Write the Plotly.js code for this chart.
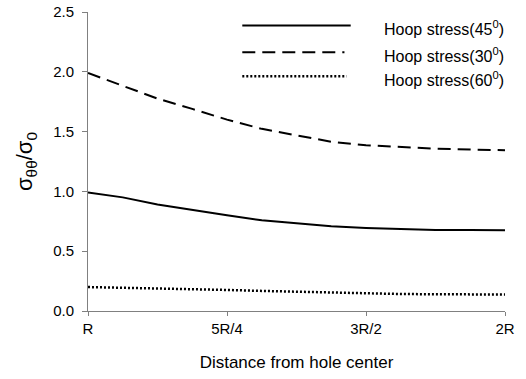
<!DOCTYPE html>
<html>
<head>
<meta charset="utf-8">
<script src="https://cdn.plot.ly/plotly-3.0.1.min.js"></script>
<style>
  html, body { margin: 0; padding: 0; background: #ffffff; }
  #chart { width: 526px; height: 379px; }
</style>
</head>
<body>
<div id="chart"></div>
<script>
// Radial positions (equally spaced steps between the labelled stations)
const positions = [0, 0.25, 0.5, 0.75, 1, 1.25, 1.5, 1.75, 2, 2.25, 2.5, 2.75, 3];
const tickPositions = [0, 1, 2, 3];
const tickLabels = ['R', '5R/4', '3R/2', '2R'];

// Normalised hoop stress along the line from the hole edge
const hoop45 = [0.99, 0.95, 0.89, 0.843, 0.80, 0.758, 0.73, 0.708, 0.694, 0.683, 0.678, 0.677, 0.675];
const hoop30 = [1.99, 1.883, 1.776, 1.69, 1.60, 1.523, 1.47, 1.415, 1.386, 1.372, 1.357, 1.350, 1.345];
const hoop60 = [0.20, 0.195, 0.19, 0.183, 0.176, 0.168, 0.160, 0.153, 0.147, 0.142, 0.140, 0.139, 0.138];

const seriesNames = ['Hoop stress(45<sup>0</sup>)', 'Hoop stress(30<sup>0</sup>)', 'Hoop stress(60<sup>0</sup>)'];
const seriesValues = [hoop45, hoop30, hoop60];
const seriesDash = ['solid', '13px,7px', '2px,2px'];

const FONT = 'Liberation Sans, Arial, sans-serif';

const traces = seriesValues.map((vals, i) => ({
  x: positions,
  y: vals,
  type: 'scatter',
  mode: 'lines',
  name: seriesNames[i],
  line: { color: '#000000', width: i === 2 ? 2.5 : 2, dash: seriesDash[i] },
  showlegend: false,
  hoverinfo: 'skip'
}));

// Hand-drawn key in the upper right: long line samples with labels beside them
const keyShapes = [];
const keyNotes = [];
const keyRows = [0.955, 0.865, 0.785];
const keyEnds = [0.63, 0.615, 0.62];
seriesNames.forEach((name, i) => {
  keyShapes.push({
    type: 'line', xref: 'paper', yref: 'paper',
    x0: 0.37, x1: keyEnds[i], y0: keyRows[i], y1: keyRows[i],
    line: { color: '#000000', width: i === 2 ? 2.5 : 2, dash: seriesDash[i] }
  });
  keyNotes.push({
    xref: 'paper', yref: 'paper', x: 0.705, y: keyRows[i] - 0.008,
    xanchor: 'left', yanchor: 'middle', showarrow: false,
    text: name, font: { family: FONT, size: 16, color: '#000000' }
  });
});

const layout = {
  width: 526,
  height: 379,
  margin: { l: 88, r: 21, t: 12, b: 68 },
  paper_bgcolor: '#ffffff',
  plot_bgcolor: '#ffffff',
  font: { family: FONT, color: '#000000' },
  showlegend: false,
  xaxis: {
    range: [0, 3],
    tickvals: tickPositions,
    ticktext: tickLabels,
    showgrid: false,
    zeroline: false,
    showline: true,
    linecolor: '#808080',
    linewidth: 1,
    ticks: 'outside',
    ticklen: 4,
    tickcolor: '#808080',
    tickfont: { family: FONT, size: 15, color: '#000000' },
    title: { text: 'Distance from hole center', font: { family: FONT, size: 17, color: '#000000' }, standoff: 20 }
  },
  yaxis: {
    range: [0, 2.5],
    tickvals: [0, 0.5, 1, 1.5, 2, 2.5],
    tickformat: '.1f',
    showgrid: false,
    zeroline: false,
    showline: true,
    linecolor: '#808080',
    linewidth: 1,
    ticks: 'outside',
    ticklen: 5,
    tickcolor: '#808080',
    ticklabelstandoff: 5,
    tickfont: { family: FONT, size: 15, color: '#000000' },
    title: { text: 'σ<sub>θθ</sub>/σ<sub>0</sub>', font: { family: FONT, size: 22, color: '#000000' }, standoff: 14 }
  },
  shapes: keyShapes,
  annotations: keyNotes
};

Plotly.newPlot('chart', traces, layout, { staticPlot: true, displayModeBar: false });
</script>
</body>
</html>
